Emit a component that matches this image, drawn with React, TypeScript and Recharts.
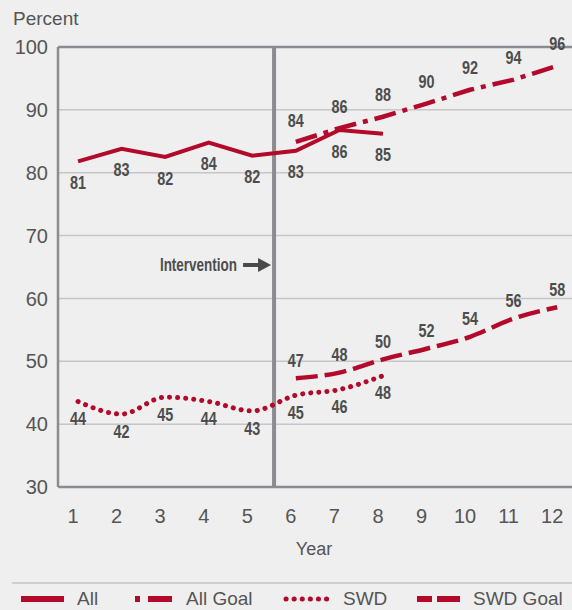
import React from "react";
import {
  LineChart,
  Line,
  XAxis,
  YAxis,
  CartesianGrid,
  ReferenceLine,
  LabelList,
} from "recharts";

// years on the x axis
const years = [1, 2, 3, 4, 5, 6, 7, 8, 9, 10, 11, 12];

// series (null = no point that year)
const allValues = [81.8, 83.8, 82.5, 84.8, 82.7, 83.5, 86.8, 86.2, null, null, null, null];
const allGoalValues = [null, null, null, null, null, 84.9, 87.1, 88.9, 91.0, 93.2, 94.8, 97.0];
const swdValues = [43.6, 41.6, 44.3, 43.6, 42.1, 44.6, 45.5, 47.7, null, null, null, null];
const swdGoalValues = [null, null, null, null, null, 47.3, 48.2, 50.3, 52.0, 53.9, 56.8, 58.6];

// printed point labels
const allLabels = [81, 83, 82, 84, 82, 83, 86, 85, null, null, null, null];
const allGoalLabels = [null, null, null, null, null, 84, 86, 88, 90, 92, 94, 96];
const swdLabels = [44, 42, 45, 44, 43, 45, 46, 48, null, null, null, null];
const swdGoalLabels = [null, null, null, null, null, 47, 48, 50, 52, 54, 56, 58];

const yTicks = [30, 40, 50, 60, 70, 80, 90, 100];
const interventionYear = 5.5;

const RED = "#b3092b";
const TEXT = "#555";
const SANS = '"Liberation Sans", Arial, sans-serif';

const rows = years.map((year, i) => ({
  year,
  all: allValues[i],
  allGoal: allGoalValues[i],
  swd: swdValues[i],
  swdGoal: swdGoalValues[i],
  allLabel: allLabels[i],
  allGoalLabel: allGoalLabels[i],
  swdLabel: swdLabels[i],
  swdGoalLabel: swdGoalLabels[i],
}));

// no condensed bold installed, so squeeze the bold face horizontally
const Condensed = ({ x, y, anchor, size, squeeze, children }: any) => (
  <g transform={`translate(${x},${y}) scale(${squeeze},1)`}>
    <text
      x={0}
      y={0}
      textAnchor={anchor}
      dominantBaseline="central"
      fill="#4d4d4d"
      fontFamily={SANS}
      fontWeight="bold"
      fontSize={size}
    >
      {children}
    </text>
  </g>
);

// point label, shifted above (negative) or below (positive) the point
const pointLabel = (shift: number) => (props: any) => {
  const { x, y, value } = props;
  if (value == null || x == null || y == null) return null;
  return (
    <Condensed x={x} y={y + shift} anchor="middle" size={18} squeeze={0.8}>
      {value}
    </Condensed>
  );
};

const XTick = (props: any) => {
  const { x, y, payload } = props;
  return (
    <text x={x - 5} y={y} dy="0.71em" textAnchor="middle" fill={TEXT} fontSize={20} fontFamily={SANS}>
      {payload.value}
    </text>
  );
};

const InterventionLabel = (props: any) => {
  const { viewBox } = props;
  const x = viewBox.x;
  const y = viewBox.y + 218;
  return (
    <g>
      <Condensed x={x - 37} y={y} anchor="end" size={18} squeeze={0.75}>
        Intervention
      </Condensed>
      <line x1={x - 31} x2={x - 14} y1={y} y2={y} stroke="#4a4a4a" strokeWidth={4} />
      <polygon points={`${x - 16},${y - 7} ${x - 3},${y} ${x - 16},${y + 7}`} fill="#4a4a4a" />
    </g>
  );
};

const legendItems = [
  { name: "All", x: 21, text: 77, dash: undefined, cap: "butt", w: 43 },
  { name: "All Goal", x: 135, text: 186, dash: "5 8 24 0", cap: "butt", w: 37 },
  { name: "SWD", x: 286, text: 343, dash: "0.1 8", cap: "round", w: 44 },
  { name: "SWD Goal", x: 417, text: 473, dash: "15 5 23 0", cap: "butt", w: 43 },
];

export default function App() {
  return (
    <div
      style={{
        position: "absolute",
        top: 0,
        left: 0,
        width: 572,
        height: 610,
        background: "#efefef",
        overflow: "hidden",
      }}
    >
      <svg width={572} height={610} style={{ position: "absolute", top: 0, left: 0 }}>
        <text x={13} y={25} fill={TEXT} fontSize={19} fontFamily={SANS}>
          Percent
        </text>
        <text x={314} y={555} textAnchor="middle" fill={TEXT} fontSize={18} fontFamily={SANS}>
          Year
        </text>
        <line x1={12} x2={572} y1={583} y2={583} stroke="#cfcfcf" strokeWidth={2} />
        {legendItems.map((it) => (
          <g key={it.name}>
            <line
              x1={it.x}
              x2={it.x + it.w}
              y1={599}
              y2={599}
              stroke={RED}
              strokeWidth={it.cap === "round" ? 5 : 6}
              strokeDasharray={it.dash}
              strokeLinecap={it.cap as any}
            />
            <text x={it.text} y={605} fill={TEXT} fontSize={19} fontFamily={SANS}>
              {it.name}
            </text>
          </g>
        ))}
      </svg>
      <div style={{ position: "absolute", top: 0, left: 0 }}>
        <LineChart width={572} height={560} data={rows} margin={{ top: 47, right: 0, left: 0, bottom: 0 }}>
          <CartesianGrid vertical={false} stroke="#c6c6ca" strokeWidth={1.5} />
          <XAxis
            dataKey="year"
            type="number"
            domain={[0.54, 12.34]}
            ticks={years}
            allowDataOverflow
            height={73}
            tickSize={0}
            tickMargin={22}
            tick={<XTick />}
            axisLine={{ stroke: "#8c8c90", strokeWidth: 2.5 }}
            tickLine={false}
          />
          <YAxis
            type="number"
            domain={[30, 100]}
            ticks={yTicks}
            width={58}
            tickSize={0}
            tickMargin={10}
            tickLine={false}
            axisLine={{ stroke: "#8c8c90", strokeWidth: 2.5 }}
            tick={{ fill: TEXT, fontSize: 20, fontFamily: SANS }}
          />
          <ReferenceLine y={100} stroke="#8c8c90" strokeWidth={2.5} />
          <ReferenceLine
            x={interventionYear}
            stroke="#8c8c90"
            strokeWidth={4}
            label={<InterventionLabel />}
          />
          <Line
            dataKey="all"
            type="linear"
            stroke={RED}
            strokeWidth={4}
            dot={false}
            activeDot={false}
            isAnimationActive={false}
          >
            <LabelList dataKey="allLabel" content={pointLabel(21)} />
          </Line>
          <Line
            dataKey="allGoal"
            type="linear"
            stroke={RED}
            strokeWidth={4.5}
            strokeDasharray="22 7 5 7"
            dot={false}
            activeDot={false}
            isAnimationActive={false}
          >
            <LabelList dataKey="allGoalLabel" content={pointLabel(-22)} />
          </Line>
          <Line
            dataKey="swd"
            type="monotone"
            stroke={RED}
            strokeWidth={5}
            strokeDasharray="0.1 8"
            strokeLinecap="round"
            dot={false}
            activeDot={false}
            isAnimationActive={false}
          >
            <LabelList dataKey="swdLabel" content={pointLabel(17)} />
          </Line>
          <Line
            dataKey="swdGoal"
            type="monotone"
            stroke={RED}
            strokeWidth={4.5}
            strokeDasharray="22 7"
            dot={false}
            activeDot={false}
            isAnimationActive={false}
          >
            <LabelList dataKey="swdGoalLabel" content={pointLabel(-18)} />
          </Line>
        </LineChart>
      </div>
    </div>
  );
}
